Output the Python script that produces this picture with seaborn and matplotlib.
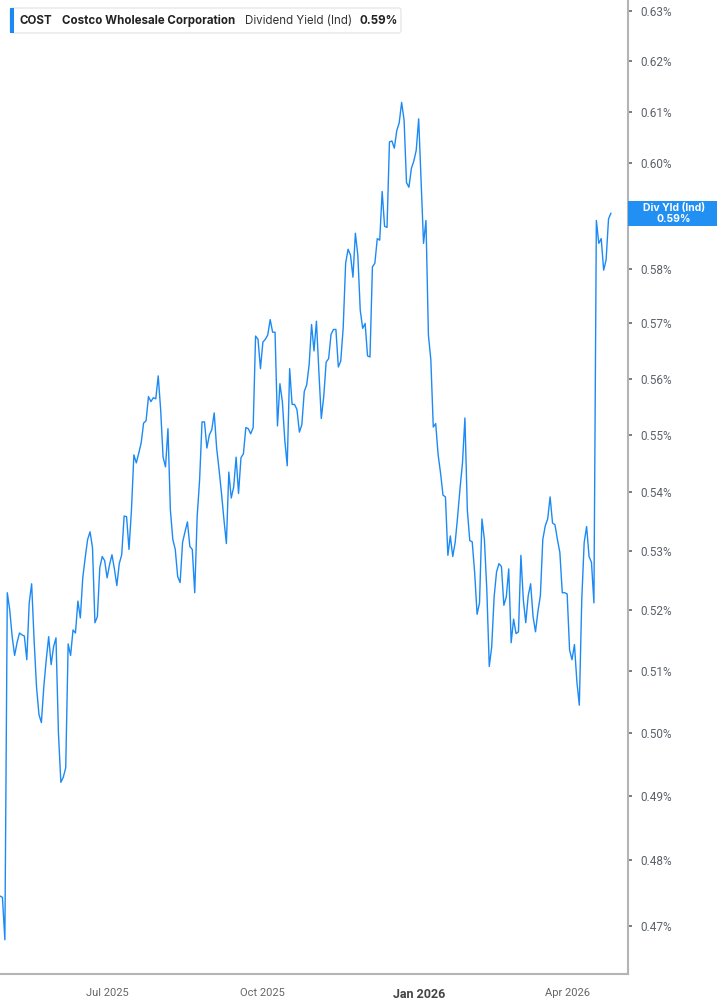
import matplotlib
matplotlib.use("Agg")
import numpy as np
import pandas as pd
import matplotlib.pyplot as plt
from matplotlib.patches import Rectangle, FancyBboxPatch
from matplotlib.ticker import NullLocator
import seaborn as sns

ticker = "COST"
company = "Costco Wholesale Corporation"
metric = "Dividend Yield (Ind)"
metric_short = "Div Yld (Ind)"

start_date = "2025-04-28"
market_holidays = ["2025-05-26", "2025-06-19", "2025-07-04", "2025-09-01",
                   "2025-11-27", "2025-12-25", "2026-01-01", "2026-01-19",
                   "2026-02-16", "2026-04-03"]

# daily indicated dividend yield, in percent (one value per trading day)
yield_pct = [
    0.4745, 0.4743, 0.4679, 0.5229, 0.5200, 0.5156, 0.5125, 0.5146, 0.5162, 0.5159,
    0.5157, 0.5118, 0.5212, 0.5244, 0.5151, 0.5074, 0.5029, 0.5016, 0.5074, 0.5118,
    0.5156, 0.5110, 0.5139, 0.5154, 0.5000, 0.4921, 0.4929, 0.4944, 0.5144, 0.5125,
    0.5167, 0.5162, 0.5215, 0.5187, 0.5254, 0.5288, 0.5319, 0.5332, 0.5305, 0.5179,
    0.5189, 0.5271, 0.5290, 0.5283, 0.5254, 0.5276, 0.5293, 0.5269, 0.5241, 0.5278,
    0.5293, 0.5359, 0.5358, 0.5302, 0.5369, 0.5465, 0.5451, 0.5468, 0.5486, 0.5521,
    0.5525, 0.5568, 0.5559, 0.5566, 0.5564, 0.5605, 0.5545, 0.5461, 0.5444, 0.5511,
    0.5369, 0.5319, 0.5302, 0.5256, 0.5246, 0.5314, 0.5332, 0.5349, 0.5307, 0.5302,
    0.5229, 0.5358, 0.5421, 0.5523, 0.5523, 0.5477, 0.5500, 0.5509, 0.5539, 0.5477,
    0.5439, 0.5398, 0.5353, 0.5312, 0.5435, 0.5390, 0.5409, 0.5461, 0.5398, 0.5460,
    0.5467, 0.5513, 0.5511, 0.5502, 0.5513, 0.5677, 0.5671, 0.5618, 0.5666, 0.5671,
    0.5679, 0.5707, 0.5684, 0.5684, 0.5516, 0.5591, 0.5559, 0.5491, 0.5446, 0.5618,
    0.5554, 0.5554, 0.5545, 0.5505, 0.5518, 0.5577, 0.5589, 0.5625, 0.5698, 0.5650,
    0.5704, 0.5613, 0.5529, 0.5568, 0.5630, 0.5636, 0.5680, 0.5689, 0.5689, 0.5621,
    0.5632, 0.5693, 0.5811, 0.5837, 0.5826, 0.5785, 0.5867, 0.5826, 0.5724, 0.5691,
    0.5700, 0.5641, 0.5639, 0.5804, 0.5811, 0.5857, 0.5854, 0.5946, 0.5880, 0.5878,
    0.6041, 0.6043, 0.6029, 0.6063, 0.6078, 0.6118, 0.6084, 0.5963, 0.5954, 0.5990,
    0.6004, 0.6025, 0.6086, 0.5967, 0.5848, 0.5891, 0.5679, 0.5634, 0.5514, 0.5520,
    0.5465, 0.5433, 0.5395, 0.5392, 0.5292, 0.5325, 0.5290, 0.5314, 0.5358, 0.5407,
    0.5451, 0.5530, 0.5369, 0.5317, 0.5315, 0.5263, 0.5193, 0.5212, 0.5354, 0.5319,
    0.5234, 0.5107, 0.5139, 0.5222, 0.5264, 0.5278, 0.5273, 0.5208, 0.5222, 0.5269,
    0.5146, 0.5185, 0.5161, 0.5164, 0.5292, 0.5217, 0.5179, 0.5224, 0.5244, 0.5189,
    0.5164, 0.5198, 0.5224, 0.5319, 0.5342, 0.5354, 0.5392, 0.5347, 0.5344, 0.5319,
    0.5297, 0.5229, 0.5229, 0.5227, 0.5134, 0.5118, 0.5143, 0.5082, 0.5044, 0.5217,
    0.5314, 0.5341, 0.5290, 0.5280, 0.5212, 0.5891, 0.5848, 0.5857, 0.5798, 0.5817,
    0.5894, 0.5905,
]

y_ticks = [0.47, 0.48, 0.49, 0.50, 0.51, 0.52, 0.53, 0.54, 0.55,
           0.56, 0.57, 0.58, 0.59, 0.60, 0.61, 0.62, 0.63]
x_ticks = ["2025-07-01", "2025-10-01", "2026-01-01", "2026-04-01"]
x_tick_labels = ["Jul 2025", "Oct 2025", "Jan 2026", "Apr 2026"]

line_color = "#1c8af5"
axis_color = "#b4b4b4"

# trading-day calendar; the chart spaces sessions evenly (no gaps for weekends/holidays)
dates = pd.date_range(start_date, periods=len(yield_pct),
                      freq=pd.offsets.CustomBusinessDay(holidays=market_holidays))
df = pd.DataFrame({"date": dates, "session": np.arange(len(dates)), "yield": yield_pct})
tick_pos = dates.searchsorted(pd.to_datetime(x_ticks))

sns.set_theme(style="white")
plt.rcParams["font.family"] = ["Inter", "DejaVu Sans"]

W, H = 717, 1005
fig = plt.figure(figsize=(W / 100, H / 100), dpi=100)
ax = fig.add_axes([0, 1 - 974 / H, 628 / W, 974 / H])

sns.lineplot(data=df, x="session", y="yield", ax=ax, color=line_color, linewidth=1.0)

ax.set_yscale("log")
ax.set_ylim(0.4628, 0.6322)
ax.set_xlim(0, len(dates) - 1 + 7)
ax.set_xlabel("")
ax.set_ylabel("")

ax.yaxis.tick_right()
# the 0.59% label sits under the last-value tag
ax.set_yticks(y_ticks, labels=["" if abs(v - 0.59) < 1e-9 else f"{v:.2f}%" for v in y_ticks])
ax.yaxis.set_minor_locator(NullLocator())
ax.set_xticks(tick_pos, labels=x_tick_labels)
ax.xaxis.set_minor_locator(NullLocator())

for side in ["left", "top"]:
    ax.spines[side].set_visible(False)
for side in ["right", "bottom"]:
    ax.spines[side].set_color(axis_color)
    ax.spines[side].set_linewidth(1.5)

ax.tick_params(axis="y", which="major", direction="out", length=3, width=1.2,
               color="#666666", labelsize=8.5, labelcolor="#5b616b", pad=6,
               right=True, left=False)
ax.tick_params(axis="x", which="major", direction="out", length=4, width=1,
               color="#999999", labelsize=8, labelcolor="#666666", pad=6)
for lab in ax.get_xticklabels() + ax.get_yticklabels():
    lab.set_fontfamily(["Roboto", "DejaVu Sans"])
jan = ax.get_xticklabels()[2]
jan.set_fontweight("bold")
jan.set_fontsize(9)
jan.set_color("#444444")

# header box, top left
fig.add_artist(FancyBboxPatch((10 / W, 1 - 33 / H), 391 / W, 25 / H,
                              boxstyle="round,pad=0,rounding_size=0.003",
                              transform=fig.transFigure, facecolor="white",
                              edgecolor="#e2e2e2", linewidth=0.8, zorder=3))
fig.add_artist(Rectangle((10 / W, 1 - 33 / H), 3.5 / W, 25 / H,
                         transform=fig.transFigure, facecolor=line_color,
                         edgecolor="none", zorder=4))
ty = 1 - 20.5 / H
fig.text(20 / W, ty, ticker, fontsize=8.3, fontweight="bold", color="#222222",
         va="center", zorder=5)
fig.text(62 / W, ty, company, fontsize=8.3, fontweight="bold", color="#222222",
         va="center", zorder=5)
fig.text(245 / W, ty, metric, fontsize=8.3, color="#333333", va="center", zorder=5)
fig.text(359 / W, ty, f"{yield_pct[-1]:.2f}%", fontsize=8.3, fontweight="bold",
         color="#222222", va="center", zorder=5)

# last value tag on the right axis
last_px = ax.transData.transform((len(dates) - 1, yield_pct[-1]))[1]
cy = last_px / fig.bbox.height
fig.add_artist(Rectangle((628 / W, cy - 12.5 / H), 89 / W, 25 / H,
                         transform=fig.transFigure, facecolor="#2190f2",
                         edgecolor="none", zorder=3))
fig.text(674 / W, cy + 5.5 / H, metric_short, fontsize=7.5, fontweight="bold",
         color="white", ha="center", va="center", zorder=5)
fig.text(674 / W, cy - 5.5 / H, f"{yield_pct[-1]:.2f}%", fontsize=7.5,
         fontweight="bold", color="white", ha="center", va="center", zorder=5)

fig.savefig("out.png", dpi=100)
